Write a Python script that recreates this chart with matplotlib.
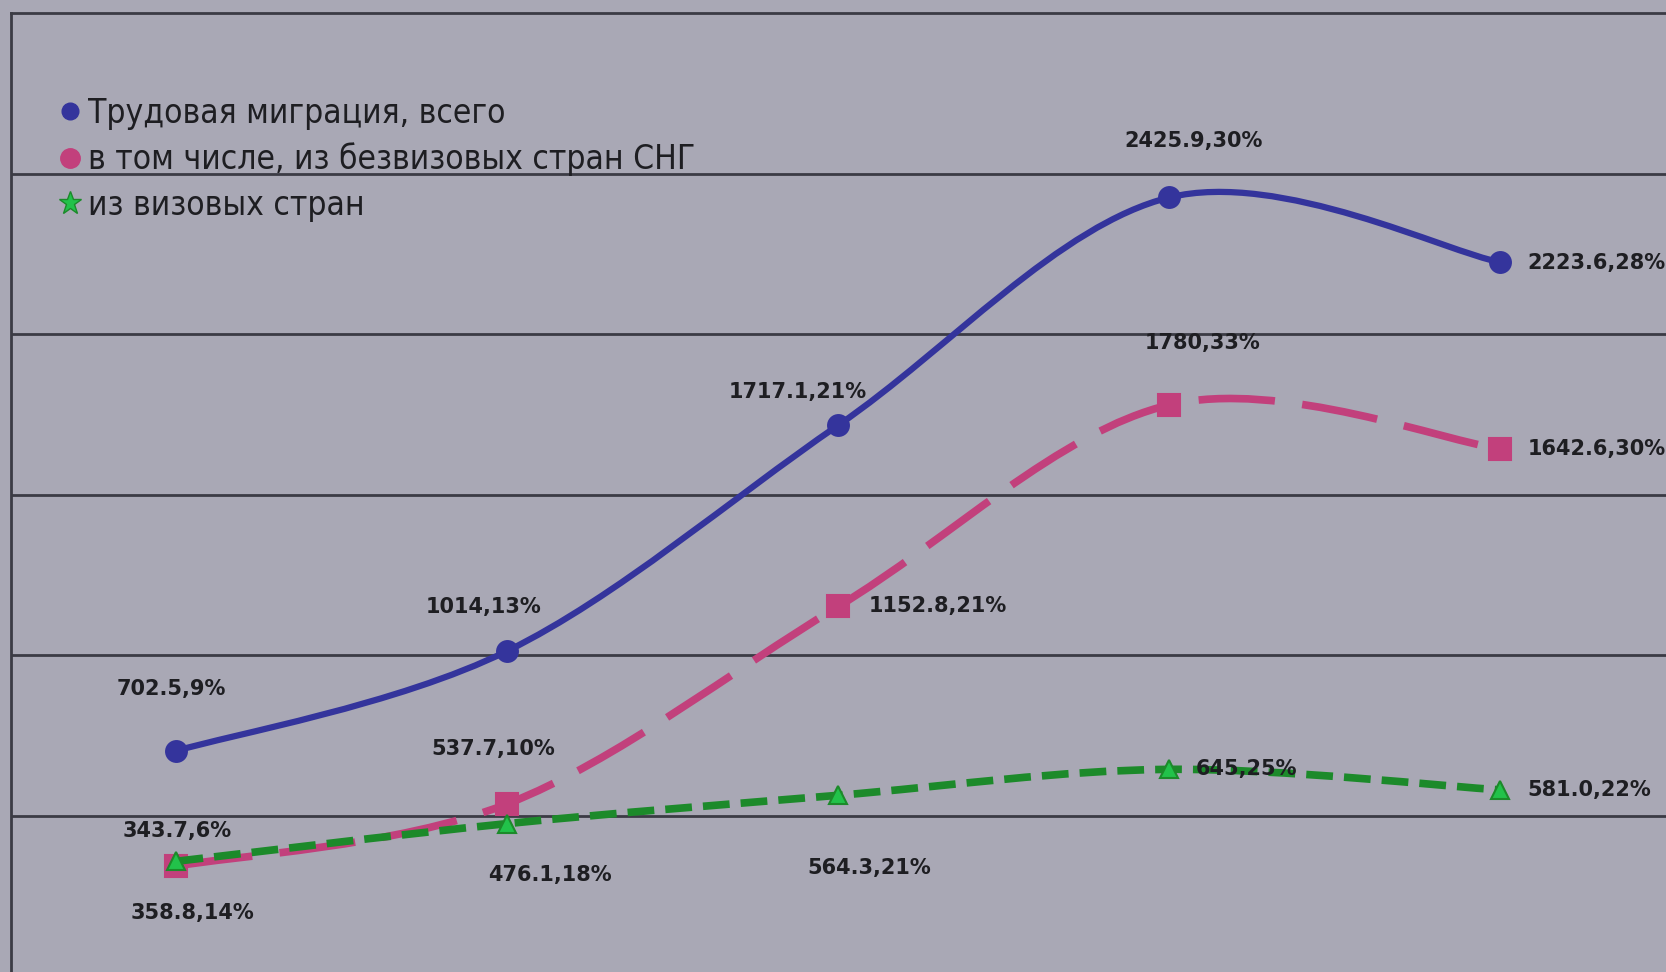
import matplotlib
matplotlib.use("Agg")
import matplotlib.pyplot as plt
from matplotlib.path import Path
from matplotlib.patches import PathPatch
from matplotlib.lines import Line2D
import numpy as np

# ---- data ----
categories = [0, 1, 2, 3, 4]
total = [702.5, 1014, 1717.1, 2425.9, 2223.6]
cis = [343.7, 537.7, 1152.8, 1780, 1642.6]
visa = [358.8, 476.1, 564.3, 645, 581.0]
total_labels = ["702.5,9%", "1014,13%", "1717.1,21%", "2425.9,30%", "2223.6,28%"]
cis_labels = ["343.7,6%", "537.7,10%", "1152.8,21%", "1780,33%", "1642.6,30%"]
visa_labels = ["358.8,14%", "476.1,18%", "564.3,21%", "645,25%", "581.0,22%"]
series_names = ["Трудовая миграция, всего",
                "в том числе, из безвизовых стран СНГ",
                "из визовых стран"]

BG = "#a9a8b5"
GRID = "#3b3b44"
BLUE = "#34349c"
PINK = "#c2407c"
GREEN = "#1c8a2a"
GREEN_M = "#22c24a"
TXT = "#1e1e22"

fig = plt.figure(figsize=(16.66, 9.72), dpi=100, facecolor=BG)
ax = fig.add_axes([0.0066, 0.0, 0.9934, 0.9866])
ax.set_facecolor(BG)
ax.set_xlim(-0.5, 4.5)
ax.set_ylim(14, 3000)
for s in ["right", "bottom"]:
    ax.spines[s].set_visible(False)
ax.spines["left"].set_color(GRID)
ax.spines["left"].set_linewidth(2)
ax.spines["top"].set_color(GRID)
ax.spines["top"].set_linewidth(2)
ax.set_xticks([])
ax.set_yticks([500, 1000, 1500, 2000, 2500])
ax.tick_params(left=False, labelleft=False)
ax.yaxis.grid(True, color=GRID, linewidth=2)
ax.set_axisbelow(True)


def smooth_path(xs, ys):
    pts = np.column_stack([xs, ys]).astype(float)
    n = len(pts)
    verts = [pts[0]]
    codes = [Path.MOVETO]
    for i in range(n - 1):
        p0 = pts[i - 1] if i > 0 else pts[i]
        p1 = pts[i]
        p2 = pts[i + 1]
        p3 = pts[i + 2] if i + 2 < n else pts[i + 1]
        c1 = p1 + (p2 - p0) / 6.0
        c2 = p2 - (p3 - p1) / 6.0
        verts += [c1, c2, p2]
        codes += [Path.CURVE4] * 3
    return Path(verts, codes)


def draw(ys, color, lw, ls, marker, ms, mfc, mec, z):
    patch = PathPatch(smooth_path(categories, ys), fill=False, edgecolor=color,
                      linewidth=lw, linestyle=ls, capstyle="butt", zorder=z)
    ax.add_patch(patch)
    ax.plot(categories, ys, linestyle="none", marker=marker, markersize=ms,
            markerfacecolor=mfc, markeredgecolor=mec, markeredgewidth=1.5, zorder=z + 0.5)


draw(total, BLUE, 4.5, "solid", "o", 15, BLUE, BLUE, 5)
draw(cis, PINK, 5.5, (0, (10, 3.6)), "s", 16, PINK, PINK, 3)
draw(visa, GREEN, 5.5, (0, (3.5, 1.45)), "^", 13, GREEN_M, GREEN, 4)

lab_font = dict(fontsize=15, color=TXT, family="DejaVu Sans", weight="bold")

total_off = [(-5, 62, "center"), (-24, 44, "center"), (-41, 33, "center"), (24, 56, "center"), (27, -1, "left")]
cis_off = [(1, 35, "center"), (-14, 55, "center"), (30, 0, "left"), (33, 62, "center"), (27, 0, "left")]
visa_off = [(16, -52, "center"), (42, -51, "center"), (31, -73, "center"), (26, 0, "left"), (27, 0, "left")]

for ys, labs, offs in [(total, total_labels, total_off), (cis, cis_labels, cis_off),
                       (visa, visa_labels, visa_off)]:
    for x, y, t, (dx, dy, ha) in zip(categories, ys, labs, offs):
        ax.annotate(t, (x, y), xytext=(dx, dy), textcoords="offset pixels",
                    ha=ha, va="center", zorder=10, **lab_font)

handles = [
    Line2D([], [], linestyle="none", marker="o", markersize=12, color=BLUE),
    Line2D([], [], linestyle="none", marker="o", markersize=14, color=PINK),
    Line2D([], [], linestyle="none", marker="*", markersize=17, color=GREEN_M, markeredgecolor=GREEN),
]
leg = fig.legend(handles, series_names, loc="upper left", bbox_to_anchor=(0.025, 0.914),
                 frameon=False, handletextpad=0.1, handlelength=0.9, labelspacing=0.38,
                 borderaxespad=0, prop=dict(family="DejaVu Sans", stretch="condensed", size=24))
for t in leg.get_texts():
    t.set_color(TXT)

fig.savefig("out.png", dpi=100, facecolor=BG)
